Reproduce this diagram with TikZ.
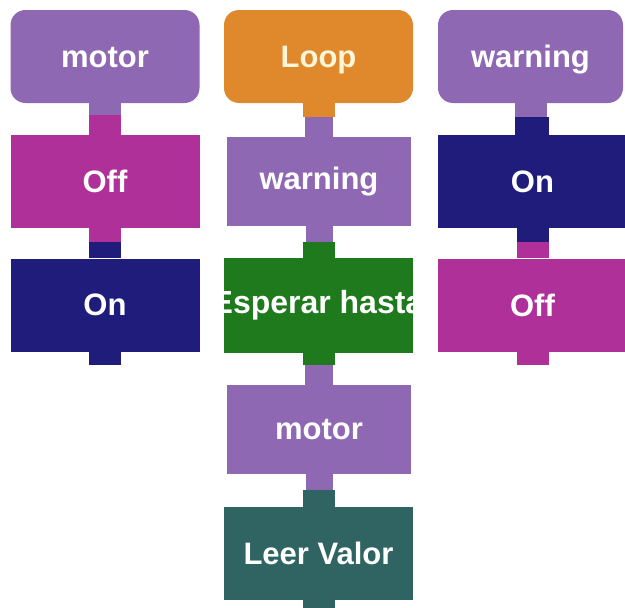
\documentclass[tikz,border=0pt]{standalone}
\usepackage{fontspec}
\setmainfont{Liberation Sans}
\definecolor{cpurple}{HTML}{8F68B4}
\definecolor{cmagenta}{HTML}{B03099}
\definecolor{cnavy}{HTML}{201C7C}
\definecolor{corange}{HTML}{E0882C}
\definecolor{cgreen}{HTML}{1E7A1C}
\definecolor{cteal}{HTML}{306462}
\definecolor{ccream}{HTML}{FFF6D8}
% #1 upper node, #2 lower node, #3 upper colour, #4 lower colour, #5 split depth,
% #6 upper half-width, #7 lower half-width
\newcommand\blocktab[7]{%
  \fill[#3] ([xshift=-#6]#1.south) rectangle ([xshift=#6,yshift=-#5]#1.south);
  \fill[#4] ([xshift=-#7,yshift=-#5]#1.south) rectangle ([xshift=#7]#2.north);
}
\newcommand\lasttab[3]{%
  \fill[#2] ([xshift=-16pt]#1.south) rectangle ([xshift=16pt,yshift=-#3]#1.south);
}
\begin{document}
\begin{tikzpicture}[x=1pt,y=-1pt,
  blk/.style={rectangle, minimum width=189pt, minimum height=93pt, inner sep=0pt,
    text=white, font=\bfseries\fontsize{31}{31}\selectfont},
  hat/.style={blk, rounded corners=15pt, text height=21pt, text depth=0pt}]
\useasboundingbox (0,0) rectangle (625,608);
\fill[white] (0,0) rectangle (625,608);
% left column
\node[hat, fill=cpurple] (lmotor) at (105,56.5) {motor};
\node[blk, fill=cmagenta] (loff) at (105,181.5) {Off};
\node[blk, fill=cnavy] (lon) at (105,305) {On};
\blocktab{lmotor}{loff}{cpurple}{cmagenta}{12pt}{16pt}{16pt}
\blocktab{loff}{lon}{cmagenta}{cnavy}{14pt}{16pt}{16pt}
\lasttab{lon}{cnavy}{13pt}
% middle column
\node[hat, fill=corange, text=ccream] (loop) at (318.5,56.5) {Loop};
\node[blk, fill=cpurple, minimum width=184pt, minimum height=89pt] (mwarn) at (319,181.5) {warning};
\node[blk, fill=cgreen, minimum height=95pt,
  path picture={\node[text=white, font=\bfseries\fontsize{32}{32}\selectfont]
    at ([xshift=-1pt]path picture bounding box.center) {Esperar hasta};}] (wait) at (318.5,305.5) {};
\node[blk, fill=cpurple, minimum width=184pt, minimum height=89pt] (mmotor) at (319,429.5) {motor};
\node[blk, fill=cteal] (leer) at (318.5,553.5) {Leer Valor};
\blocktab{loop}{mwarn}{corange}{cpurple}{14pt}{16pt}{13.5pt}
\blocktab{mwarn}{wait}{cpurple}{cgreen}{16pt}{13.5pt}{16pt}
\blocktab{wait}{mmotor}{cgreen}{cpurple}{12pt}{16pt}{13.5pt}
\blocktab{mmotor}{leer}{cpurple}{cteal}{16pt}{13.5pt}{16pt}
\lasttab{leer}{cteal}{10pt}
% right column
\node[hat, fill=cpurple, minimum width=185pt] (rwarn) at (530.5,56.5) {warning};
\node[blk, fill=cnavy] (ron) at (532.5,181.5) {On};
\node[blk, fill=cmagenta] (roff) at (532.5,305) {Off};
\blocktab{rwarn}{ron}{cpurple}{cnavy}{14pt}{16pt}{16pt}
\blocktab{ron}{roff}{cnavy}{cmagenta}{14pt}{16pt}{16pt}
\lasttab{roff}{cmagenta}{13pt}
\end{tikzpicture}
\end{document}
